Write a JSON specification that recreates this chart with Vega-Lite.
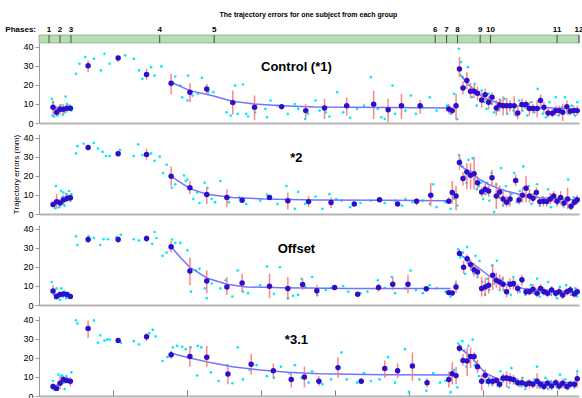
{
"$schema": "https://vega.github.io/schema/vega-lite/v6.json",
"padding": {"left": 5, "top": 11, "right": 0, "bottom": 0},
"config": {
  "font": "Liberation Sans",
  "view": {"stroke": null},
  "axis": {"labelFont": "Liberation Sans", "labelFontSize": 9, "labelColor": "#000", "domainColor": "#999", "tickColor": "#999", "grid": false, "titleFont": "Liberation Sans", "titleFontWeight": "normal", "titleFontSize": 8, "titleColor": "#000", "labelFlush": false},
  "axisX": {"labels": false, "ticks": false, "domainWidth": 2, "domainColor": "#b4b4b4"},
  "axisY": {"tickSize": 4, "labelPadding": 2}
},
"title": {"text": "The trajectory errors for one subject from each group", "fontSize": 7, "fontWeight": "bold", "font": "Liberation Sans", "anchor": "middle", "offset": 8, "dx": 14, "color": "#000"},
"datasets": {
"phases": [{"phase":"1","x":6.8},{"phase":"2","x":14.2},{"phase":"3","x":21.6},{"phase":"4","x":81.6},{"phase":"5","x":118.4},{"phase":"6","x":267.8},{"phase":"7","x":275.5},{"phase":"8","x":282.9},{"phase":"9","x":298.2},{"phase":"10","x":305.2},{"phase":"11","x":350.2},{"phase":"12","x":365}],
"fits": [
{"p":1,"s":"a","x":9.5,"y":7.5},{"p":1,"s":"a","x":21.2,"y":7.8},
{"p":1,"s":"b","x":89.3,"y":21.4},{"p":1,"s":"b","x":102,"y":17},{"p":1,"s":"b","x":116.7,"y":14.4},{"p":1,"s":"b","x":130.7,"y":11.4},{"p":1,"s":"b","x":145.7,"y":10},{"p":1,"s":"b","x":163.5,"y":9.1},{"p":1,"s":"b","x":186.9,"y":8.4},{"p":1,"s":"b","x":210.3,"y":8.3},{"p":1,"s":"b","x":233.7,"y":8.1},{"p":1,"s":"b","x":278.2,"y":7.9},
{"p":1,"s":"c","x":284.2,"y":25.8},{"p":1,"s":"c","x":289.9,"y":20.5},{"p":1,"s":"c","x":296.9,"y":15.3},{"p":1,"s":"c","x":303.9,"y":12.1},{"p":1,"s":"c","x":313.3,"y":10},{"p":1,"s":"c","x":327.3,"y":8.6},{"p":1,"s":"c","x":350.7,"y":7.7},{"p":1,"s":"c","x":363.8,"y":7.4},
{"p":2,"s":"a","x":9.5,"y":5.0},{"p":2,"s":"a","x":21.2,"y":8.5},
{"p":2,"s":"b","x":89.3,"y":19.8},{"p":2,"s":"b","x":102,"y":13.3},{"p":2,"s":"b","x":113.4,"y":10.4},{"p":2,"s":"b","x":130.7,"y":8.7},{"p":2,"s":"b","x":151.8,"y":7.9},{"p":2,"s":"b","x":186.9,"y":7.3},{"p":2,"s":"b","x":233.7,"y":7.2},{"p":2,"s":"b","x":278.2,"y":7.0},
{"p":2,"s":"c","x":284.2,"y":25.8},{"p":2,"s":"c","x":294.5,"y":19.8},{"p":2,"s":"c","x":303.9,"y":15.5},{"p":2,"s":"c","x":315.6,"y":12.1},{"p":2,"s":"c","x":327.3,"y":9.9},{"p":2,"s":"c","x":339,"y":8.5},{"p":2,"s":"c","x":350.7,"y":7.9},{"p":2,"s":"c","x":363.8,"y":7.3},
{"p":3,"s":"a","x":9.5,"y":5.8},{"p":3,"s":"a","x":21.2,"y":5.0},
{"p":3,"s":"b","x":89.3,"y":30.6},{"p":3,"s":"b","x":95.6,"y":24.9},{"p":3,"s":"b","x":102,"y":19.8},{"p":3,"s":"b","x":113.4,"y":14.2},{"p":3,"s":"b","x":127,"y":10.9},{"p":3,"s":"b","x":140.1,"y":9.5},{"p":3,"s":"b","x":163.5,"y":9.0},{"p":3,"s":"b","x":210.3,"y":8.7},{"p":3,"s":"b","x":278.2,"y":8.7},
{"p":3,"s":"c","x":284.2,"y":26.7},{"p":3,"s":"c","x":292.2,"y":22.4},{"p":3,"s":"c","x":303.9,"y":15.5},{"p":3,"s":"c","x":313.3,"y":11.3},{"p":3,"s":"c","x":327.3,"y":8.7},{"p":3,"s":"c","x":350.7,"y":7.3},{"p":3,"s":"c","x":363.8,"y":7.0},
{"p":4,"s":"a","x":9.5,"y":5.0},{"p":4,"s":"a","x":21.2,"y":8.0},
{"p":4,"s":"b","x":89.3,"y":22.4},{"p":4,"s":"b","x":102,"y":20.0},{"p":4,"s":"b","x":116.7,"y":17.4},{"p":4,"s":"b","x":130.7,"y":15.4},{"p":4,"s":"b","x":149.5,"y":13.7},{"p":4,"s":"b","x":168.2,"y":12.5},{"p":4,"s":"b","x":189.2,"y":11.7},{"p":4,"s":"b","x":210.3,"y":11.4},{"p":4,"s":"b","x":233.7,"y":11.2},{"p":4,"s":"b","x":278.2,"y":11.0},
{"p":4,"s":"c","x":284.2,"y":25.4},{"p":4,"s":"c","x":292.2,"y":20.4},{"p":4,"s":"c","x":301.6,"y":12.0},{"p":4,"s":"c","x":311,"y":8.7},{"p":4,"s":"c","x":327.3,"y":7.3},{"p":4,"s":"c","x":363.8,"y":7.0}
],
"means": [
{"p":1,"x":9.5,"y":8.3,"lo":3.9,"hi":11.8},{"p":1,"x":11.9,"y":5.6,"lo":3.5,"hi":9.0},{"p":1,"x":14.2,"y":7.2,"lo":4.5,"hi":10.0},{"p":1,"x":16.5,"y":7.2,"lo":4.5,"hi":10.0},{"p":1,"x":18.9,"y":7.7,"lo":5.5,"hi":10.0},{"p":1,"x":21.2,"y":7.7,"lo":6.5,"hi":9.0},
{"p":1,"x":33.2,"y":30.0,"lo":26.7,"hi":32.8},{"p":1,"x":53.5,"y":34.1,"lo":32.0,"hi":35.3},{"p":1,"x":72.7,"y":25.5,"lo":22.7,"hi":28.4},
{"p":1,"x":89.3,"y":20.9,"lo":14.9,"hi":25.8},{"p":1,"x":102,"y":16.2,"lo":10.9,"hi":20.9},{"p":1,"x":113.4,"y":17.9,"lo":15.3,"hi":20.5},{"p":1,"x":131,"y":10.7,"lo":4.4,"hi":17.0},{"p":1,"x":145.7,"y":8.3,"lo":1.6,"hi":14.4},{"p":1,"x":164,"y":8.6,"lo":6.9,"hi":10.0},{"p":1,"x":180.3,"y":6.5,"lo":2.7,"hi":10.0},{"p":1,"x":193,"y":7.9,"lo":2.1,"hi":12.7},{"p":1,"x":208,"y":9.1,"lo":3.9,"hi":13.5},{"p":1,"x":226.2,"y":9.8,"lo":2.1,"hi":17.0},{"p":1,"x":236,"y":7.0,"lo":0.4,"hi":12.7},{"p":1,"x":245,"y":9.0,"lo":2.1,"hi":15.3},{"p":1,"x":257.6,"y":9.0,"lo":4.8,"hi":12.1},{"p":1,"x":277,"y":7.4,"lo":4.8,"hi":10.0},{"p":1,"x":279.3,"y":6.5,"lo":4.4,"hi":8.3},{"p":1,"x":281.9,"y":9.0,"lo":1.3,"hi":15.3},
{"p":1,"x":284.2,"y":28.4,"lo":24.0,"hi":34.6},{"p":1,"x":286.6,"y":18.4,"lo":15,"hi":22},{"p":1,"x":289.2,"y":22.3,"lo":17.9,"hi":26.7},{"p":1,"x":291.7,"y":16.7,"lo":13,"hi":21},{"p":1,"x":294.1,"y":16.7,"lo":13,"hi":20},{"p":1,"x":296.4,"y":15.6,"lo":12,"hi":19},{"p":1,"x":299.2,"y":12.1,"lo":8,"hi":16},{"p":1,"x":301.6,"y":14.9,"lo":12,"hi":18},{"p":1,"x":303.9,"y":10.9,"lo":7,"hi":14},{"p":1,"x":306.2,"y":13.5,"lo":10,"hi":16},{"p":1,"x":309.1,"y":7.9,"lo":4,"hi":12},{"p":1,"x":311.4,"y":9.5,"lo":6,"hi":13},{"p":1,"x":313.7,"y":9.1,"lo":4,"hi":14},{"p":1,"x":316.1,"y":9.1,"lo":5,"hi":13},{"p":1,"x":318.4,"y":9.1,"lo":6,"hi":12},{"p":1,"x":321.2,"y":9.1,"lo":4,"hi":14},{"p":1,"x":323.6,"y":5.3,"lo":2,"hi":9},{"p":1,"x":326.4,"y":9.7,"lo":6,"hi":13},{"p":1,"x":329.2,"y":9.7,"lo":7,"hi":12},{"p":1,"x":331.5,"y":7.6,"lo":4,"hi":11},{"p":1,"x":333.9,"y":7.6,"lo":5,"hi":10},{"p":1,"x":336.7,"y":7.6,"lo":3,"hi":12},{"p":1,"x":339,"y":11.8,"lo":9,"hi":15},{"p":1,"x":341.3,"y":8.3,"lo":5,"hi":11},{"p":1,"x":344.1,"y":5.3,"lo":3,"hi":8},{"p":1,"x":347,"y":5.1,"lo":3,"hi":7},{"p":1,"x":349.3,"y":6.5,"lo":4,"hi":9},{"p":1,"x":351.6,"y":6.5,"lo":4,"hi":9},{"p":1,"x":354,"y":5.6,"lo":1,"hi":10},{"p":1,"x":356.8,"y":8.6,"lo":5,"hi":12},{"p":1,"x":359.1,"y":6.2,"lo":4,"hi":8},{"p":1,"x":361.5,"y":6.5,"lo":4,"hi":9},{"p":1,"x":363.8,"y":6.5,"lo":4,"hi":9},
{"p":2,"x":9.5,"y":5.0,"lo":3.5,"hi":6.5},{"p":2,"x":11.9,"y":6.5,"lo":2.7,"hi":10.4},{"p":2,"x":14.2,"y":5.8,"lo":4,"hi":8},{"p":2,"x":16.5,"y":7.4,"lo":5,"hi":10},{"p":2,"x":18.9,"y":8.2,"lo":6,"hi":11},{"p":2,"x":21.2,"y":8.5,"lo":6.5,"hi":10.5},
{"p":2,"x":33.2,"y":34.9,"lo":33.5,"hi":36.3},{"p":2,"x":53.5,"y":31.6,"lo":30.5,"hi":32.6},{"p":2,"x":72.7,"y":31.3,"lo":28.4,"hi":34.4},
{"p":2,"x":89.3,"y":19.8,"lo":14.7,"hi":25.0},{"p":2,"x":102,"y":13.8,"lo":10.4,"hi":17.3},{"p":2,"x":113.4,"y":10.2,"lo":5.3,"hi":13.8},{"p":2,"x":127,"y":8.7,"lo":3.6,"hi":13.0},{"p":2,"x":137.3,"y":7.2,"lo":5.8,"hi":8.7},{"p":2,"x":155.8,"y":8.7,"lo":7.5,"hi":9.9},{"p":2,"x":168.2,"y":7.0,"lo":2.4,"hi":11.3},{"p":2,"x":182.2,"y":6.5,"lo":3.6,"hi":9.5},{"p":2,"x":197.4,"y":6.0,"lo":3.0,"hi":8.7},{"p":2,"x":213.1,"y":5.3,"lo":4.1,"hi":6.5},{"p":2,"x":230.2,"y":7.5,"lo":6.8,"hi":8.2},{"p":2,"x":242.4,"y":5.3,"lo":4.1,"hi":6.5},{"p":2,"x":255.2,"y":6.7,"lo":4.4,"hi":8.4},{"p":2,"x":264.8,"y":9.9,"lo":4.1,"hi":16.4},{"p":2,"x":277,"y":6.7,"lo":5.3,"hi":8.7},{"p":2,"x":279.3,"y":11.3,"lo":5.3,"hi":17.3},{"p":2,"x":281.9,"y":9.4,"lo":1.9,"hi":14.7},
{"p":2,"x":284.2,"y":27.0,"lo":23.2,"hi":31.0},{"p":2,"x":286.6,"y":18.6,"lo":15,"hi":22},{"p":2,"x":289.2,"y":22.1,"lo":13.0,"hi":26.7},{"p":2,"x":291.7,"y":20.3,"lo":13.0,"hi":26.7},{"p":2,"x":294.1,"y":21.2,"lo":13.0,"hi":30.1},{"p":2,"x":296.4,"y":16.4,"lo":13,"hi":20},{"p":2,"x":299.2,"y":11.6,"lo":9,"hi":14},{"p":2,"x":301.6,"y":13.0,"lo":10,"hi":16},{"p":2,"x":303.9,"y":12.1,"lo":9,"hi":15},{"p":2,"x":306.2,"y":19.0,"lo":14.7,"hi":23.2},{"p":2,"x":309.1,"y":9.5,"lo":2.7,"hi":16.4},{"p":2,"x":311.4,"y":11.6,"lo":8,"hi":15},{"p":2,"x":313.7,"y":7.9,"lo":4,"hi":12},{"p":2,"x":316.1,"y":6.2,"lo":3.6,"hi":9.5},{"p":2,"x":318.4,"y":7.9,"lo":4,"hi":12},{"p":2,"x":322.2,"y":17.6,"lo":14.7,"hi":20.7},{"p":2,"x":324.5,"y":7.3,"lo":5,"hi":10},{"p":2,"x":326.8,"y":9.9,"lo":6,"hi":14},{"p":2,"x":329.2,"y":13.5,"lo":6.2,"hi":19.8},{"p":2,"x":331.5,"y":9.5,"lo":6,"hi":13},{"p":2,"x":333.9,"y":8.3,"lo":6,"hi":11},{"p":2,"x":336.2,"y":11.3,"lo":8,"hi":14},{"p":2,"x":338.5,"y":6.5,"lo":4,"hi":9},{"p":2,"x":340.9,"y":6.7,"lo":4,"hi":9},{"p":2,"x":343.2,"y":6.5,"lo":4,"hi":9},{"p":2,"x":345.6,"y":7.9,"lo":5,"hi":11},{"p":2,"x":347.9,"y":9.5,"lo":6,"hi":12},{"p":2,"x":350.2,"y":6.7,"lo":4,"hi":9},{"p":2,"x":352.6,"y":8.7,"lo":5,"hi":12},{"p":2,"x":354.9,"y":5.8,"lo":3,"hi":8},{"p":2,"x":357.3,"y":7.9,"lo":2.7,"hi":13.8},{"p":2,"x":359.6,"y":4.1,"lo":2,"hi":6},{"p":2,"x":361.9,"y":6.2,"lo":4,"hi":9},{"p":2,"x":363.8,"y":7.5,"lo":5,"hi":10},
{"p":3,"x":9.5,"y":7.3,"lo":5.3,"hi":10.4},{"p":3,"x":11.9,"y":4.5,"lo":3,"hi":6},{"p":3,"x":14.2,"y":5.5,"lo":4,"hi":7},{"p":3,"x":16.5,"y":5.8,"lo":4.5,"hi":7},{"p":3,"x":18.9,"y":5.5,"lo":4,"hi":7},{"p":3,"x":21.2,"y":4.5,"lo":3.5,"hi":5.5},
{"p":3,"x":33.2,"y":34.4,"lo":32.6,"hi":36.0},{"p":3,"x":53.5,"y":34.4,"lo":32.6,"hi":36.0},{"p":3,"x":72.7,"y":34.9,"lo":33.0,"hi":36.5},
{"p":3,"x":89.3,"y":30.6,"lo":27.5,"hi":33.5},{"p":3,"x":102,"y":17.8,"lo":10.4,"hi":25.0},{"p":3,"x":113.4,"y":12.6,"lo":6.2,"hi":18.1},{"p":3,"x":127,"y":9.5,"lo":5.3,"hi":14.7},{"p":3,"x":137.3,"y":11.6,"lo":7.0,"hi":16.4},{"p":3,"x":155.8,"y":9.9,"lo":3.6,"hi":16.4},{"p":3,"x":168.2,"y":8.7,"lo":2.7,"hi":14.7},{"p":3,"x":178.2,"y":10.8,"lo":7.9,"hi":13.8},{"p":3,"x":187.8,"y":7.5,"lo":4.4,"hi":10.4},{"p":3,"x":199.8,"y":9.2,"lo":8.5,"hi":9.9},{"p":3,"x":215.4,"y":5.6,"lo":4.8,"hi":6.4},{"p":3,"x":229.5,"y":9.2,"lo":7.0,"hi":11.3},{"p":3,"x":239.1,"y":10.9,"lo":7.9,"hi":14.7},{"p":3,"x":249.4,"y":10.9,"lo":6.2,"hi":15.6},{"p":3,"x":261.8,"y":8.5,"lo":7.0,"hi":9.5},{"p":3,"x":277,"y":6.5,"lo":5.5,"hi":7.5},{"p":3,"x":279.3,"y":6.3,"lo":5.3,"hi":7.3},{"p":3,"x":281.9,"y":9.5,"lo":6.2,"hi":13.0},
{"p":3,"x":284.2,"y":27.0,"lo":25.8,"hi":29.2},{"p":3,"x":287,"y":19.8,"lo":16.4,"hi":23.2},{"p":3,"x":289.4,"y":24.3,"lo":21.5,"hi":26.7},{"p":3,"x":291.7,"y":21.2,"lo":18,"hi":24},{"p":3,"x":294.1,"y":18.5,"lo":15,"hi":22},{"p":3,"x":296.4,"y":17.3,"lo":14,"hi":20},{"p":3,"x":299.2,"y":8.7,"lo":4.4,"hi":14.7},{"p":3,"x":301.6,"y":9.5,"lo":5,"hi":14},{"p":3,"x":303.9,"y":10.4,"lo":6,"hi":15},{"p":3,"x":306.7,"y":15.6,"lo":7.9,"hi":21.5},{"p":3,"x":309.1,"y":13.0,"lo":9,"hi":17},{"p":3,"x":311.4,"y":12.1,"lo":8,"hi":16},{"p":3,"x":313.7,"y":10.9,"lo":7,"hi":15},{"p":3,"x":316.1,"y":7.0,"lo":4,"hi":10},{"p":3,"x":318.4,"y":10.9,"lo":8,"hi":14},{"p":3,"x":320.7,"y":11.3,"lo":8,"hi":14},{"p":3,"x":323.6,"y":8.7,"lo":6,"hi":11},{"p":3,"x":326.4,"y":13.3,"lo":10,"hi":16},{"p":3,"x":329.2,"y":7.0,"lo":5,"hi":9},{"p":3,"x":331.5,"y":7.0,"lo":5,"hi":9},{"p":3,"x":333.9,"y":8.3,"lo":6,"hi":11},{"p":3,"x":336.7,"y":6.2,"lo":4,"hi":8},{"p":3,"x":339,"y":8.7,"lo":6,"hi":11},{"p":3,"x":341.3,"y":7.0,"lo":5,"hi":9},{"p":3,"x":343.7,"y":6.2,"lo":4,"hi":8},{"p":3,"x":346.5,"y":7.9,"lo":5,"hi":10},{"p":3,"x":349.3,"y":6.2,"lo":4,"hi":8},{"p":3,"x":351.6,"y":7.0,"lo":5,"hi":9},{"p":3,"x":354,"y":5.3,"lo":3,"hi":7},{"p":3,"x":356.8,"y":7.0,"lo":5,"hi":9},{"p":3,"x":359.1,"y":7.9,"lo":5,"hi":10},{"p":3,"x":361.9,"y":5.8,"lo":4,"hi":8},{"p":3,"x":363.8,"y":7.0,"lo":5,"hi":9},
{"p":4,"x":9.5,"y":5.0,"lo":3.5,"hi":6.5},{"p":4,"x":11.9,"y":4.0,"lo":3,"hi":5},{"p":4,"x":14.2,"y":6.7,"lo":3.7,"hi":10.4},{"p":4,"x":16.5,"y":8.7,"lo":7,"hi":10.5},{"p":4,"x":18.9,"y":8.2,"lo":6.5,"hi":10},{"p":4,"x":21.2,"y":7.8,"lo":5,"hi":10},
{"p":4,"x":33.2,"y":35.5,"lo":30.5,"hi":39.7},{"p":4,"x":53.5,"y":29.1,"lo":28,"hi":30},{"p":4,"x":72.7,"y":31.1,"lo":28.8,"hi":33.0},
{"p":4,"x":89.3,"y":21.6,"lo":19.6,"hi":23.8},{"p":4,"x":102,"y":20.7,"lo":15.4,"hi":26.3},{"p":4,"x":113.4,"y":20.4,"lo":15.4,"hi":26.3},{"p":4,"x":127.7,"y":11.5,"lo":6.2,"hi":15.4},{"p":4,"x":143.4,"y":16.7,"lo":11.2,"hi":22.1},{"p":4,"x":158.4,"y":13.2,"lo":9.5,"hi":17.1},{"p":4,"x":170.5,"y":8.7,"lo":4.5,"hi":12.0},{"p":4,"x":179.4,"y":10.0,"lo":4.5,"hi":15.4},{"p":4,"x":189.2,"y":7.8,"lo":5.3,"hi":10.4},{"p":4,"x":202.1,"y":14.9,"lo":9.5,"hi":20.4},{"p":4,"x":217.8,"y":7.8,"lo":6.2,"hi":9.5},{"p":4,"x":233.7,"y":14.5,"lo":9.5,"hi":18.7},{"p":4,"x":242.4,"y":13.2,"lo":9.5,"hi":17.1},{"p":4,"x":252.4,"y":15.7,"lo":7.9,"hi":22.9},{"p":4,"x":262.3,"y":7.0,"lo":4.5,"hi":9.5},{"p":4,"x":277,"y":8.7,"lo":4.5,"hi":12.9},{"p":4,"x":279.3,"y":11.7,"lo":6.2,"hi":17.9},{"p":4,"x":281.9,"y":10.7,"lo":6.2,"hi":15.4},
{"p":4,"x":284.2,"y":25.1,"lo":22.9,"hi":27.1},{"p":4,"x":286.6,"y":18.7,"lo":16,"hi":22},{"p":4,"x":289.4,"y":18.4,"lo":10.4,"hi":25.5},{"p":4,"x":291.7,"y":20.7,"lo":14.6,"hi":25.5},{"p":4,"x":294.1,"y":20.7,"lo":18,"hi":23},{"p":4,"x":296.4,"y":15.4,"lo":12,"hi":19},{"p":4,"x":299.2,"y":7.8,"lo":2.8,"hi":11.2},{"p":4,"x":301.6,"y":10.9,"lo":8,"hi":14},{"p":4,"x":303.9,"y":7.8,"lo":5,"hi":10},{"p":4,"x":306.7,"y":7.8,"lo":5,"hi":10},{"p":4,"x":309.1,"y":8.2,"lo":6,"hi":10},{"p":4,"x":311.4,"y":6.2,"lo":4,"hi":8},{"p":4,"x":313.7,"y":9.5,"lo":7,"hi":12},{"p":4,"x":316.1,"y":9.5,"lo":4.5,"hi":12.9},{"p":4,"x":318.4,"y":9.0,"lo":6,"hi":12},{"p":4,"x":320.7,"y":8.7,"lo":6,"hi":11},{"p":4,"x":323.6,"y":7.0,"lo":5,"hi":9},{"p":4,"x":326.4,"y":7.0,"lo":4.5,"hi":10},{"p":4,"x":329.2,"y":6.2,"lo":4,"hi":8},{"p":4,"x":331.5,"y":6.7,"lo":4,"hi":9},{"p":4,"x":333.9,"y":6.2,"lo":4,"hi":8},{"p":4,"x":336.7,"y":7.8,"lo":3.7,"hi":12.0},{"p":4,"x":339,"y":6.2,"lo":4,"hi":8},{"p":4,"x":341.3,"y":5.0,"lo":3,"hi":7},{"p":4,"x":343.7,"y":6.7,"lo":4,"hi":9},{"p":4,"x":346.5,"y":5.3,"lo":3,"hi":7},{"p":4,"x":349.3,"y":7.0,"lo":5,"hi":9},{"p":4,"x":351.6,"y":5.3,"lo":3,"hi":7},{"p":4,"x":354,"y":6.7,"lo":4,"hi":9},{"p":4,"x":356.8,"y":5.0,"lo":3,"hi":7},{"p":4,"x":359.1,"y":6.2,"lo":4,"hi":8},{"p":4,"x":361.9,"y":6.2,"lo":4,"hi":8},{"p":4,"x":363.8,"y":9.0,"lo":4.5,"hi":12.0}
],
"cyan": [
{"p":1,"x":8.6,"y":12.7},{"p":1,"x":9.5,"y":10.9},{"p":1,"x":10.2,"y":3.4},{"p":1,"x":11.4,"y":4.8},{"p":1,"x":12.6,"y":3.9},{"p":1,"x":13.7,"y":8.3},{"p":1,"x":14.9,"y":6.5},{"p":1,"x":16.1,"y":4.4},{"p":1,"x":17.3,"y":5.6},{"p":1,"x":18.0,"y":13.9},{"p":1,"x":18.9,"y":10.0},{"p":1,"x":19.8,"y":7.4},{"p":1,"x":20.8,"y":9.1},{"p":1,"x":21.9,"y":6.5},{"p":1,"x":9.1,"y":3.9},{"p":1,"x":14.9,"y":9.1},
{"p":1,"x":25,"y":25.8},{"p":1,"x":27.3,"y":31.1},{"p":1,"x":31.3,"y":34.6},{"p":1,"x":37.1,"y":33.7},{"p":1,"x":41.8,"y":27.6},{"p":1,"x":44.2,"y":36.3},{"p":1,"x":47.7,"y":31.1},{"p":1,"x":58.2,"y":35.5},{"p":1,"x":64.1,"y":33.7},{"p":1,"x":67.6,"y":27.6},{"p":1,"x":69.9,"y":23.2},{"p":1,"x":75.8,"y":29.3},{"p":1,"x":78.1,"y":24.9},{"p":1,"x":82.8,"y":29.7},
{"p":1,"x":92.1,"y":24.4},{"p":1,"x":95.6,"y":19.7},{"p":1,"x":96.8,"y":13.5},{"p":1,"x":100.3,"y":11.8},{"p":1,"x":100.8,"y":24.9},{"p":1,"x":103.8,"y":14.4},{"p":1,"x":107.3,"y":15.3},{"p":1,"x":110.1,"y":23.7},{"p":1,"x":114.4,"y":16.2},{"p":1,"x":117.9,"y":16.2},
{"p":1,"x":126.8,"y":5.6},{"p":1,"x":129.6,"y":3.9},{"p":1,"x":132.6,"y":19.7},{"p":1,"x":134.3,"y":4.8},{"p":1,"x":137.8,"y":20.2},{"p":1,"x":140.1,"y":4.8},{"p":1,"x":141.3,"y":3.4},{"p":1,"x":146,"y":5.6},{"p":1,"x":153,"y":7.4},{"p":1,"x":154.1,"y":3.0},{"p":1,"x":156.5,"y":11.8},{"p":1,"x":161.2,"y":9.1},{"p":1,"x":168.2,"y":4.8},{"p":1,"x":172.9,"y":10.0},{"p":1,"x":175.2,"y":7.4},{"p":1,"x":179.9,"y":2.1},{"p":1,"x":181.8,"y":4.8},{"p":1,"x":186.9,"y":11.8},{"p":1,"x":189.7,"y":6.5},{"p":1,"x":193.9,"y":5.6},{"p":1,"x":196.3,"y":3.4},{"p":1,"x":201.6,"y":16.2},{"p":1,"x":205.6,"y":5.6},{"p":1,"x":210.3,"y":2.7},{"p":1,"x":215,"y":7.4},{"p":1,"x":219.7,"y":9.1},{"p":1,"x":224.3,"y":24.1},{"p":1,"x":229,"y":7.4},{"p":1,"x":231.4,"y":3.0},{"p":1,"x":233.7,"y":2.1},{"p":1,"x":238.9,"y":19.7},{"p":1,"x":240.7,"y":4.8},{"p":1,"x":247.7,"y":6.5},{"p":1,"x":251.3,"y":14.4},{"p":1,"x":254.8,"y":4.8},{"p":1,"x":259.4,"y":8.3},{"p":1,"x":264.1,"y":13.5},{"p":1,"x":268.8,"y":6.5},
{"p":1,"x":275.8,"y":9.1},{"p":1,"x":278.2,"y":4.8},{"p":1,"x":280.5,"y":15.3},{"p":1,"x":282.8,"y":2.1},
{"p":1,"x":283.8,"y":39.0},{"p":1,"x":285.2,"y":32.0},{"p":1,"x":286.6,"y":24.1},{"p":1,"x":288,"y":18.8},{"p":1,"x":289.9,"y":29.3},{"p":1,"x":290.8,"y":16.2},{"p":1,"x":292.7,"y":13.5},{"p":1,"x":294.5,"y":20.5},{"p":1,"x":295.9,"y":9.1},{"p":1,"x":297.4,"y":15.3},{"p":1,"x":299.2,"y":17.0},{"p":1,"x":301.1,"y":10.9},{"p":1,"x":302.5,"y":7.4},{"p":1,"x":303.9,"y":15.3},{"p":1,"x":306.2,"y":10.0},{"p":1,"x":307.6,"y":5.6},{"p":1,"x":310,"y":6.5},{"p":1,"x":311.9,"y":11.8},{"p":1,"x":314.7,"y":12.7},{"p":1,"x":316.5,"y":4.8},{"p":1,"x":319.3,"y":10.0},{"p":1,"x":320.7,"y":6.5},{"p":1,"x":322.6,"y":3.9},{"p":1,"x":324.5,"y":11.8},{"p":1,"x":326.8,"y":6.5},{"p":1,"x":328.2,"y":8.3},{"p":1,"x":330.1,"y":3.9},{"p":1,"x":332.9,"y":10.9},{"p":1,"x":334.8,"y":5.6},{"p":1,"x":337.1,"y":17.9},{"p":1,"x":338.5,"y":7.4},{"p":1,"x":340.4,"y":4.8},{"p":1,"x":342.7,"y":3.0},{"p":1,"x":345.1,"y":10.9},{"p":1,"x":347.4,"y":6.5},{"p":1,"x":349.3,"y":13.5},{"p":1,"x":351.2,"y":3.9},{"p":1,"x":353.5,"y":8.3},{"p":1,"x":355.4,"y":13.5},{"p":1,"x":357.7,"y":4.8},{"p":1,"x":360.1,"y":9.1},{"p":1,"x":362.4,"y":3.9},{"p":1,"x":363.8,"y":10.9},
{"p":2,"x":9.1,"y":5.3},{"p":2,"x":10.2,"y":4.4},{"p":2,"x":11.4,"y":14.7},{"p":2,"x":12.6,"y":7.0},{"p":2,"x":13.7,"y":3.6},{"p":2,"x":14.9,"y":12.1},{"p":2,"x":15.6,"y":8.7},{"p":2,"x":16.5,"y":11.3},{"p":2,"x":17.3,"y":4.4},{"p":2,"x":18.4,"y":10.4},{"p":2,"x":19.6,"y":9.5},{"p":2,"x":20.3,"y":12.1},{"p":2,"x":21.2,"y":7.0},{"p":2,"x":21.9,"y":10.4},{"p":2,"x":10.9,"y":3.0},{"p":2,"x":16.1,"y":5.3},
{"p":2,"x":25,"y":31.8},{"p":2,"x":25.9,"y":35.6},{"p":2,"x":30.1,"y":36.9},{"p":2,"x":37.1,"y":37.3},{"p":2,"x":39.9,"y":34.4},{"p":2,"x":43,"y":32.6},{"p":2,"x":45.3,"y":30.4},{"p":2,"x":47.7,"y":30.4},{"p":2,"x":54.7,"y":33.5},{"p":2,"x":64.1,"y":30.4},{"p":2,"x":67.1,"y":36.6},{"p":2,"x":69.9,"y":31.0},{"p":2,"x":75.8,"y":31.8},{"p":2,"x":78.1,"y":27.9},{"p":2,"x":81.6,"y":30.1},{"p":2,"x":83.9,"y":21.5},{"p":2,"x":86.3,"y":25.8},
{"p":2,"x":89.8,"y":13.8},{"p":2,"x":92.1,"y":15.6},{"p":2,"x":98,"y":20.2},{"p":2,"x":99.2,"y":17.3},{"p":2,"x":100.3,"y":18.1},{"p":2,"x":104.3,"y":7.9},{"p":2,"x":106.9,"y":11.3},{"p":2,"x":108.5,"y":5.8},{"p":2,"x":112,"y":16.4},{"p":2,"x":113.9,"y":13.8},{"p":2,"x":116.7,"y":7.9},{"p":2,"x":119,"y":6.2},{"p":2,"x":122.6,"y":17.3},{"p":2,"x":128.4,"y":6.2},{"p":2,"x":135.4,"y":8.7},{"p":2,"x":140.1,"y":5.3},{"p":2,"x":149.5,"y":7.0},{"p":2,"x":154.1,"y":10.2},{"p":2,"x":156.5,"y":9.2},{"p":2,"x":161.2,"y":5.3},{"p":2,"x":167.2,"y":14.7},{"p":2,"x":172.9,"y":2.7},{"p":2,"x":175.2,"y":11.6},{"p":2,"x":179.9,"y":5.3},{"p":2,"x":186.9,"y":9.2},{"p":2,"x":191.6,"y":2.7},{"p":2,"x":196.3,"y":10.4},{"p":2,"x":200.9,"y":7.9},{"p":2,"x":204.5,"y":7.0},{"p":2,"x":210.3,"y":3.6},{"p":2,"x":217.3,"y":5.8},{"p":2,"x":224.3,"y":7.0},{"p":2,"x":229,"y":7.5},{"p":2,"x":233.7,"y":5.8},{"p":2,"x":240.7,"y":7.0},{"p":2,"x":245.4,"y":4.4},{"p":2,"x":247.7,"y":7.9},{"p":2,"x":252.4,"y":6.2},{"p":2,"x":259.4,"y":7.0},{"p":2,"x":264.1,"y":5.3},{"p":2,"x":266.5,"y":15.6},{"p":2,"x":268.8,"y":3.6},{"p":2,"x":274.7,"y":6.2},{"p":2,"x":278.2,"y":2.7},{"p":2,"x":280.5,"y":7.9},{"p":2,"x":282.8,"y":4.4},
{"p":2,"x":283.8,"y":31.0},{"p":2,"x":284.7,"y":28.4},{"p":2,"x":286.1,"y":25.0},{"p":2,"x":287.5,"y":19.8},{"p":2,"x":288.9,"y":16.4},{"p":2,"x":290.3,"y":28.4},{"p":2,"x":291.7,"y":22.4},{"p":2,"x":293.1,"y":29.2},{"p":2,"x":294.5,"y":18.1},{"p":2,"x":295.9,"y":13.0},{"p":2,"x":297.4,"y":14.7},{"p":2,"x":298.8,"y":16.4},{"p":2,"x":300.2,"y":7.9},{"p":2,"x":301.6,"y":10.4},{"p":2,"x":303,"y":16.4},{"p":2,"x":304.4,"y":7.0},{"p":2,"x":305.8,"y":21.5},{"p":2,"x":307.6,"y":1.0},{"p":2,"x":309.1,"y":15.6},{"p":2,"x":310.9,"y":8.7},{"p":2,"x":312.3,"y":24.1},{"p":2,"x":313.7,"y":4.4},{"p":2,"x":315.6,"y":14.7},{"p":2,"x":317.5,"y":5.3},{"p":2,"x":319.3,"y":10.4},{"p":2,"x":321.2,"y":21.5},{"p":2,"x":323.1,"y":6.2},{"p":2,"x":325,"y":12.1},{"p":2,"x":327.3,"y":25.0},{"p":2,"x":329.2,"y":8.7},{"p":2,"x":331.1,"y":14.7},{"p":2,"x":332.9,"y":5.3},{"p":2,"x":334.8,"y":10.4},{"p":2,"x":336.7,"y":15.6},{"p":2,"x":338.5,"y":4.4},{"p":2,"x":340.4,"y":8.7},{"p":2,"x":342.3,"y":6.2},{"p":2,"x":344.2,"y":13.0},{"p":2,"x":346,"y":3.6},{"p":2,"x":348.4,"y":9.5},{"p":2,"x":350.2,"y":5.3},{"p":2,"x":352.1,"y":7.0},{"p":2,"x":354,"y":4.4},{"p":2,"x":355.8,"y":7.9},{"p":2,"x":357.7,"y":18.1},{"p":2,"x":359.6,"y":2.7},{"p":2,"x":361.5,"y":8.7},{"p":2,"x":363.8,"y":6.2},
{"p":3,"x":8.6,"y":12.1},{"p":3,"x":9.5,"y":7.9},{"p":3,"x":10.9,"y":3.6},{"p":3,"x":11.9,"y":8.7},{"p":3,"x":13.3,"y":5.3},{"p":3,"x":14.2,"y":2.7},{"p":3,"x":15.1,"y":8.7},{"p":3,"x":16.1,"y":4.4},{"p":3,"x":17.3,"y":7.0},{"p":3,"x":18.4,"y":3.6},{"p":3,"x":19.6,"y":6.2},{"p":3,"x":20.8,"y":5.3},{"p":3,"x":21.9,"y":4.1},{"p":3,"x":10.2,"y":5.3},
{"p":3,"x":25,"y":36.1},{"p":3,"x":25.9,"y":31.5},{"p":3,"x":33.6,"y":36.1},{"p":3,"x":37.1,"y":35.2},{"p":3,"x":41.4,"y":31.5},{"p":3,"x":43.7,"y":34.5},{"p":3,"x":46.5,"y":34.5},{"p":3,"x":52.4,"y":35.6},{"p":3,"x":55.4,"y":36.9},{"p":3,"x":64.1,"y":34.5},{"p":3,"x":67.6,"y":33.8},{"p":3,"x":76.5,"y":32.1},{"p":3,"x":78.1,"y":38.3},{"p":3,"x":79.3,"y":35.2},
{"p":3,"x":83.5,"y":25.8},{"p":3,"x":86.3,"y":27.5},{"p":3,"x":89.8,"y":34.4},{"p":3,"x":92.1,"y":32.6},{"p":3,"x":95.6,"y":32.6},{"p":3,"x":100.3,"y":28.7},{"p":3,"x":102.7,"y":7.0},{"p":3,"x":106.2,"y":18.1},{"p":3,"x":108.5,"y":19.0},{"p":3,"x":112,"y":8.7},{"p":3,"x":113.4,"y":3.6},{"p":3,"x":116.7,"y":11.3},{"p":3,"x":122.6,"y":8.7},{"p":3,"x":126.1,"y":13.0},{"p":3,"x":130.7,"y":4.4},{"p":3,"x":134.3,"y":18.1},{"p":3,"x":137.8,"y":7.0},{"p":3,"x":141.3,"y":6.2},{"p":3,"x":149.5,"y":10.4},{"p":3,"x":154.1,"y":20.2},{"p":3,"x":158.8,"y":5.8},{"p":3,"x":162.8,"y":19.8},{"p":3,"x":168.2,"y":3.6},{"p":3,"x":171.7,"y":4.8},{"p":3,"x":175.2,"y":5.3},{"p":3,"x":177.5,"y":13.8},{"p":3,"x":179.9,"y":9.5},{"p":3,"x":184.6,"y":14.7},{"p":3,"x":188.1,"y":5.3},{"p":3,"x":193.9,"y":7.9},{"p":3,"x":197.4,"y":9.0},{"p":3,"x":205.6,"y":10.0},{"p":3,"x":209.1,"y":7.0},{"p":3,"x":217.3,"y":6.2},{"p":3,"x":222,"y":7.0},{"p":3,"x":229,"y":13.0},{"p":3,"x":233.7,"y":9.0},{"p":3,"x":238.4,"y":14.7},{"p":3,"x":240.7,"y":6.2},{"p":3,"x":247.7,"y":8.7},{"p":3,"x":251.3,"y":18.1},{"p":3,"x":254.8,"y":7.9},{"p":3,"x":259.4,"y":6.2},{"p":3,"x":264.1,"y":10.4},{"p":3,"x":268.8,"y":8.7},{"p":3,"x":274.7,"y":7.0},{"p":3,"x":278.2,"y":4.4},{"p":3,"x":281.7,"y":11.3},
{"p":3,"x":283.3,"y":29.2},{"p":3,"x":284.7,"y":25.0},{"p":3,"x":286.6,"y":27.5},{"p":3,"x":288,"y":16.4},{"p":3,"x":289.4,"y":30.4},{"p":3,"x":290.8,"y":22.4},{"p":3,"x":292.2,"y":19.8},{"p":3,"x":293.6,"y":16.8},{"p":3,"x":295,"y":25.8},{"p":3,"x":296.4,"y":14.7},{"p":3,"x":297.8,"y":23.2},{"p":3,"x":299.7,"y":12.1},{"p":3,"x":301.6,"y":5.3},{"p":3,"x":303,"y":13.8},{"p":3,"x":304.4,"y":7.9},{"p":3,"x":306.2,"y":20.7},{"p":3,"x":307.6,"y":11.3},{"p":3,"x":309.5,"y":23.2},{"p":3,"x":311.4,"y":7.9},{"p":3,"x":313.3,"y":13.8},{"p":3,"x":314.7,"y":7.9},{"p":3,"x":317,"y":12.1},{"p":3,"x":318.9,"y":5.3},{"p":3,"x":320.7,"y":14.7},{"p":3,"x":322.6,"y":9.5},{"p":3,"x":325,"y":7.0},{"p":3,"x":326.8,"y":12.1},{"p":3,"x":328.7,"y":5.3},{"p":3,"x":330.6,"y":7.9},{"p":3,"x":332.5,"y":10.4},{"p":3,"x":334.3,"y":6.2},{"p":3,"x":336.7,"y":13.8},{"p":3,"x":338.5,"y":4.4},{"p":3,"x":340.4,"y":8.7},{"p":3,"x":342.3,"y":6.2},{"p":3,"x":344.2,"y":12.1},{"p":3,"x":346,"y":5.3},{"p":3,"x":348.4,"y":7.0},{"p":3,"x":350.2,"y":3.6},{"p":3,"x":352.1,"y":9.5},{"p":3,"x":354.4,"y":5.3},{"p":3,"x":356.3,"y":10.4},{"p":3,"x":358.2,"y":7.0},{"p":3,"x":360.1,"y":5.3},{"p":3,"x":362.4,"y":8.7},{"p":3,"x":363.8,"y":4.4},
{"p":4,"x":8.6,"y":5.3},{"p":4,"x":9.5,"y":7.9},{"p":4,"x":10.9,"y":3.7},{"p":4,"x":11.9,"y":4.5},{"p":4,"x":13.3,"y":11.2},{"p":4,"x":14.2,"y":6.2},{"p":4,"x":15.1,"y":10.4},{"p":4,"x":16.1,"y":9.5},{"p":4,"x":17.3,"y":3.7},{"p":4,"x":18.4,"y":10.4},{"p":4,"x":19.6,"y":7.9},{"p":4,"x":20.8,"y":7.0},{"p":4,"x":21.9,"y":12.4},{"p":4,"x":10,"y":3.3},{"p":4,"x":15.6,"y":10.7},
{"p":4,"x":25,"y":39.7},{"p":4,"x":25.9,"y":38.0},{"p":4,"x":37.1,"y":39.7},{"p":4,"x":39.9,"y":28.0},{"p":4,"x":41.4,"y":31.8},{"p":4,"x":44.2,"y":29.1},{"p":4,"x":46.0,"y":29.6},{"p":4,"x":47.7,"y":29.6},{"p":4,"x":55.4,"y":28.0},{"p":4,"x":64.1,"y":28.8},{"p":4,"x":67.6,"y":27.1},{"p":4,"x":74.6,"y":33.0},{"p":4,"x":76.9,"y":34.7},{"p":4,"x":78.8,"y":31.3},
{"p":4,"x":83.5,"y":18.4},{"p":4,"x":86.8,"y":20.4},{"p":4,"x":90.5,"y":25.5},{"p":4,"x":93.3,"y":26.3},{"p":4,"x":96.8,"y":25.8},{"p":4,"x":99.2,"y":24.6},{"p":4,"x":102.7,"y":25.5},{"p":4,"x":107.3,"y":26.3},{"p":4,"x":109.7,"y":25.5},{"p":4,"x":106.9,"y":10.7},{"p":4,"x":116.2,"y":12.4},{"p":4,"x":121.4,"y":7.9},{"p":4,"x":127.2,"y":16.2},{"p":4,"x":130.7,"y":6.7},{"p":4,"x":134.3,"y":25.5},{"p":4,"x":137.8,"y":8.7},{"p":4,"x":142.4,"y":13.7},{"p":4,"x":147.1,"y":16.2},{"p":4,"x":154.1,"y":10.4},{"p":4,"x":158.8,"y":9.5},{"p":4,"x":163.5,"y":15.4},{"p":4,"x":169.4,"y":12.0},{"p":4,"x":172.9,"y":16.2},{"p":4,"x":177.5,"y":9.5},{"p":4,"x":182.2,"y":7.0},{"p":4,"x":184.6,"y":12.9},{"p":4,"x":191.6,"y":6.2},{"p":4,"x":197.4,"y":8.7},{"p":4,"x":204.5,"y":22.9},{"p":4,"x":208,"y":8.7},{"p":4,"x":215,"y":7.0},{"p":4,"x":219.7,"y":12.0},{"p":4,"x":224.3,"y":7.9},{"p":4,"x":230.2,"y":8.7},{"p":4,"x":236,"y":20.4},{"p":4,"x":240.7,"y":7.0},{"p":4,"x":247.3,"y":24.6},{"p":4,"x":250.1,"y":2.0},{"p":4,"x":257.1,"y":8.7},{"p":4,"x":261.8,"y":2.8},{"p":4,"x":266.5,"y":12.0},{"p":4,"x":271.1,"y":7.0},{"p":4,"x":274.7,"y":7.9},{"p":4,"x":278.2,"y":2.0},{"p":4,"x":280.5,"y":13.7},{"p":4,"x":282.8,"y":4.5},
{"p":4,"x":283.3,"y":27.5},{"p":4,"x":284.7,"y":26.3},{"p":4,"x":286.1,"y":28.8},{"p":4,"x":287.5,"y":23.8},{"p":4,"x":288.9,"y":15.4},{"p":4,"x":290.3,"y":26.3},{"p":4,"x":291.7,"y":20.4},{"p":4,"x":293.1,"y":29.6},{"p":4,"x":294.5,"y":16.2},{"p":4,"x":295.9,"y":17.1},{"p":4,"x":297.4,"y":10.4},{"p":4,"x":299.2,"y":8.7},{"p":4,"x":301.1,"y":12.9},{"p":4,"x":302.5,"y":7.0},{"p":4,"x":304.4,"y":9.5},{"p":4,"x":306.2,"y":6.2},{"p":4,"x":308.1,"y":8.7},{"p":4,"x":310,"y":5.3},{"p":4,"x":311.9,"y":12.9},{"p":4,"x":313.7,"y":7.9},{"p":4,"x":315.6,"y":10.4},{"p":4,"x":317.5,"y":4.5},{"p":4,"x":319.3,"y":14.6},{"p":4,"x":321.2,"y":7.0},{"p":4,"x":323.1,"y":8.7},{"p":4,"x":325,"y":5.3},{"p":4,"x":326.8,"y":9.5},{"p":4,"x":328.7,"y":3.7},{"p":4,"x":330.6,"y":7.9},{"p":4,"x":332.5,"y":6.2},{"p":4,"x":334.8,"y":8.7},{"p":4,"x":336.7,"y":15.4},{"p":4,"x":338.5,"y":4.5},{"p":4,"x":340.4,"y":7.0},{"p":4,"x":342.3,"y":9.5},{"p":4,"x":344.2,"y":3.7},{"p":4,"x":346,"y":7.9},{"p":4,"x":348.4,"y":6.2},{"p":4,"x":350.2,"y":4.5},{"p":4,"x":352.1,"y":11.2},{"p":4,"x":354,"y":5.3},{"p":4,"x":355.8,"y":8.7},{"p":4,"x":357.7,"y":3.7},{"p":4,"x":360.1,"y":7.0},{"p":4,"x":361.9,"y":4.5},{"p":4,"x":363.8,"y":12.9}
]
},
"spacing": 11,
"bounds": "flush",
"vconcat": [
{
  "width": 540, "height": 80,
  "layer": [
    {"data": {"name": "cyan"}, "transform": [{"filter": "datum.p == 1"}], "mark": {"type": "circle", "size": 7, "color": "#00eaff", "opacity": 1},
     "encoding": {"x": {"field": "x", "type": "quantitative", "scale": {"domain": [0, 365], "nice": false}, "title": null}, "y": {"field": "y", "type": "quantitative", "scale": {"domain": [0, 42], "nice": false}, "title": null, "axis": {"tickCount": 5, "values": [0, 10, 20, 30, 40], "labelOverlap": false}}}},
    {"data": {"name": "fits"}, "transform": [{"filter": "datum.p == 1"}], "mark": {"type": "line", "color": "#7373ff", "strokeWidth": 1.5},
     "encoding": {"x": {"field": "x", "type": "quantitative", "title": null}, "y": {"field": "y", "type": "quantitative", "title": null, "axis": {"tickCount": 5, "values": [0, 10, 20, 30, 40], "labelOverlap": false}}, "detail": {"field": "s"}}},
    {"data": {"name": "means"}, "transform": [{"filter": "datum.p == 1"}], "mark": {"type": "rule", "color": "#ff6e6e", "strokeWidth": 1.5, "opacity": 0.85},
     "encoding": {"x": {"field": "x", "type": "quantitative", "title": null}, "y": {"field": "lo", "type": "quantitative", "title": null, "axis": {"tickCount": 5, "values": [0, 10, 20, 30, 40], "labelOverlap": false}}, "y2": {"field": "hi"}}},
    {"data": {"name": "means"}, "transform": [{"filter": "datum.p == 1"}], "mark": {"type": "circle", "size": 30, "color": "#2a0fd0", "opacity": 1},
     "encoding": {"x": {"field": "x", "type": "quantitative", "title": null}, "y": {"field": "y", "type": "quantitative", "title": null, "axis": {"tickCount": 5, "values": [0, 10, 20, 30, 40], "labelOverlap": false}}}},
    {"data": {"values": [{"t": "Control (*1)"}]}, "mark": {"type": "text", "fontSize": 13, "fontWeight": "bold", "color": "#000"},
     "encoding": {"x": {"datum": 174, "type": "quantitative"}, "y": {"datum": 29.5, "type": "quantitative"}, "text": {"field": "t"}}},
    {"data": {"values": [{"t": "bar"}]}, "mark": {"type": "rect", "fill": "#b3e0b3", "stroke": "#8c8c8c", "strokeWidth": 0.6},
     "encoding": {"x": {"datum": 0, "type": "quantitative"}, "x2": {"datum": 365}, "y": {"datum": 42, "type": "quantitative"}, "y2": {"datum": 46.2}}},
    {"data": {"name": "phases"}, "mark": {"type": "rule", "color": "#4a4a4a", "strokeWidth": 1},
     "encoding": {"x": {"field": "x", "type": "quantitative", "title": null}, "y": {"datum": 42, "type": "quantitative"}, "y2": {"datum": 46.2}}},
    {"data": {"name": "phases"}, "mark": {"type": "text", "fontSize": 8, "fontWeight": "bold", "baseline": "bottom", "color": "#000"},
     "encoding": {"x": {"field": "x", "type": "quantitative", "title": null}, "y": {"datum": 46.5, "type": "quantitative"}, "text": {"field": "phase"}}},
    {"data": {"values": [{"t": "Phases:"}]}, "mark": {"type": "text", "fontSize": 8, "fontWeight": "bold", "baseline": "bottom", "align": "right", "dx": -3, "color": "#000"},
     "encoding": {"x": {"datum": 0, "type": "quantitative"}, "y": {"datum": 46.5, "type": "quantitative"}, "text": {"field": "t"}}}
  ]
},
{
  "width": 540, "height": 80,
  "layer": [
    {"data": {"name": "cyan"}, "transform": [{"filter": "datum.p == 2"}], "mark": {"type": "circle", "size": 7, "color": "#00eaff", "opacity": 1},
     "encoding": {"x": {"field": "x", "type": "quantitative", "scale": {"domain": [0, 365], "nice": false}, "title": null}, "y": {"field": "y", "type": "quantitative", "scale": {"domain": [0, 42], "nice": false}, "title": "Trajectory errors (mm)", "axis": {"tickCount": 5, "values": [0, 10, 20, 30, 40], "labelOverlap": false, "titlePadding": 2}}}},
    {"data": {"name": "fits"}, "transform": [{"filter": "datum.p == 2"}], "mark": {"type": "line", "color": "#7373ff", "strokeWidth": 1.5},
     "encoding": {"x": {"field": "x", "type": "quantitative", "title": null}, "y": {"field": "y", "type": "quantitative", "title": "Trajectory errors (mm)", "axis": {"tickCount": 5, "values": [0, 10, 20, 30, 40], "labelOverlap": false, "titlePadding": 2}}, "detail": {"field": "s"}}},
    {"data": {"name": "means"}, "transform": [{"filter": "datum.p == 2"}], "mark": {"type": "rule", "color": "#ff6e6e", "strokeWidth": 1.5, "opacity": 0.85},
     "encoding": {"x": {"field": "x", "type": "quantitative", "title": null}, "y": {"field": "lo", "type": "quantitative", "title": "Trajectory errors (mm)", "axis": {"tickCount": 5, "values": [0, 10, 20, 30, 40], "labelOverlap": false, "titlePadding": 2}}, "y2": {"field": "hi"}}},
    {"data": {"name": "means"}, "transform": [{"filter": "datum.p == 2"}], "mark": {"type": "circle", "size": 30, "color": "#2a0fd0", "opacity": 1},
     "encoding": {"x": {"field": "x", "type": "quantitative", "title": null}, "y": {"field": "y", "type": "quantitative", "title": "Trajectory errors (mm)", "axis": {"tickCount": 5, "values": [0, 10, 20, 30, 40], "labelOverlap": false, "titlePadding": 2}}}},
    {"data": {"values": [{"t": "*2"}]}, "mark": {"type": "text", "fontSize": 13, "fontWeight": "bold", "color": "#000"},
     "encoding": {"x": {"datum": 174, "type": "quantitative"}, "y": {"datum": 29.5, "type": "quantitative"}, "text": {"field": "t"}}}
  ]
},
{
  "width": 540, "height": 80,
  "layer": [
    {"data": {"name": "cyan"}, "transform": [{"filter": "datum.p == 3"}], "mark": {"type": "circle", "size": 7, "color": "#00eaff", "opacity": 1},
     "encoding": {"x": {"field": "x", "type": "quantitative", "scale": {"domain": [0, 365], "nice": false}, "title": null}, "y": {"field": "y", "type": "quantitative", "scale": {"domain": [0, 42], "nice": false}, "title": null, "axis": {"tickCount": 5, "values": [0, 10, 20, 30, 40], "labelOverlap": false}}}},
    {"data": {"name": "fits"}, "transform": [{"filter": "datum.p == 3"}], "mark": {"type": "line", "color": "#7373ff", "strokeWidth": 1.5},
     "encoding": {"x": {"field": "x", "type": "quantitative", "title": null}, "y": {"field": "y", "type": "quantitative", "title": null, "axis": {"tickCount": 5, "values": [0, 10, 20, 30, 40], "labelOverlap": false}}, "detail": {"field": "s"}}},
    {"data": {"name": "means"}, "transform": [{"filter": "datum.p == 3"}], "mark": {"type": "rule", "color": "#ff6e6e", "strokeWidth": 1.5, "opacity": 0.85},
     "encoding": {"x": {"field": "x", "type": "quantitative", "title": null}, "y": {"field": "lo", "type": "quantitative", "title": null, "axis": {"tickCount": 5, "values": [0, 10, 20, 30, 40], "labelOverlap": false}}, "y2": {"field": "hi"}}},
    {"data": {"name": "means"}, "transform": [{"filter": "datum.p == 3"}], "mark": {"type": "circle", "size": 30, "color": "#2a0fd0", "opacity": 1},
     "encoding": {"x": {"field": "x", "type": "quantitative", "title": null}, "y": {"field": "y", "type": "quantitative", "title": null, "axis": {"tickCount": 5, "values": [0, 10, 20, 30, 40], "labelOverlap": false}}}},
    {"data": {"values": [{"t": "Offset"}]}, "mark": {"type": "text", "fontSize": 13, "fontWeight": "bold", "color": "#000"},
     "encoding": {"x": {"datum": 174, "type": "quantitative"}, "y": {"datum": 29.5, "type": "quantitative"}, "text": {"field": "t"}}}
  ]
},
{
  "width": 540, "height": 80,
  "layer": [
    {"data": {"name": "cyan"}, "transform": [{"filter": "datum.p == 4"}], "mark": {"type": "circle", "size": 7, "color": "#00eaff", "opacity": 1},
     "encoding": {"x": {"field": "x", "type": "quantitative", "scale": {"domain": [0, 365], "nice": false}, "title": null, "axis": {"values": [50, 100, 150, 200, 250, 300, 350], "ticks": true, "tickSize": -6, "tickColor": "#777"}}, "y": {"field": "y", "type": "quantitative", "scale": {"domain": [0, 42], "nice": false}, "title": null, "axis": {"tickCount": 5, "values": [0, 10, 20, 30, 40], "labelOverlap": false}}}},
    {"data": {"name": "fits"}, "transform": [{"filter": "datum.p == 4"}], "mark": {"type": "line", "color": "#7373ff", "strokeWidth": 1.5},
     "encoding": {"x": {"field": "x", "type": "quantitative", "title": null}, "y": {"field": "y", "type": "quantitative", "title": null, "axis": {"tickCount": 5, "values": [0, 10, 20, 30, 40], "labelOverlap": false}}, "detail": {"field": "s"}}},
    {"data": {"name": "means"}, "transform": [{"filter": "datum.p == 4"}], "mark": {"type": "rule", "color": "#ff6e6e", "strokeWidth": 1.5, "opacity": 0.85},
     "encoding": {"x": {"field": "x", "type": "quantitative", "title": null}, "y": {"field": "lo", "type": "quantitative", "title": null, "axis": {"tickCount": 5, "values": [0, 10, 20, 30, 40], "labelOverlap": false}}, "y2": {"field": "hi"}}},
    {"data": {"name": "means"}, "transform": [{"filter": "datum.p == 4"}], "mark": {"type": "circle", "size": 30, "color": "#2a0fd0", "opacity": 1},
     "encoding": {"x": {"field": "x", "type": "quantitative", "title": null}, "y": {"field": "y", "type": "quantitative", "title": null, "axis": {"tickCount": 5, "values": [0, 10, 20, 30, 40], "labelOverlap": false}}}},
    {"data": {"values": [{"t": "*3.1"}]}, "mark": {"type": "text", "fontSize": 13, "fontWeight": "bold", "color": "#000"},
     "encoding": {"x": {"datum": 174, "type": "quantitative"}, "y": {"datum": 29.5, "type": "quantitative"}, "text": {"field": "t"}}}
  ]
}
]
}
